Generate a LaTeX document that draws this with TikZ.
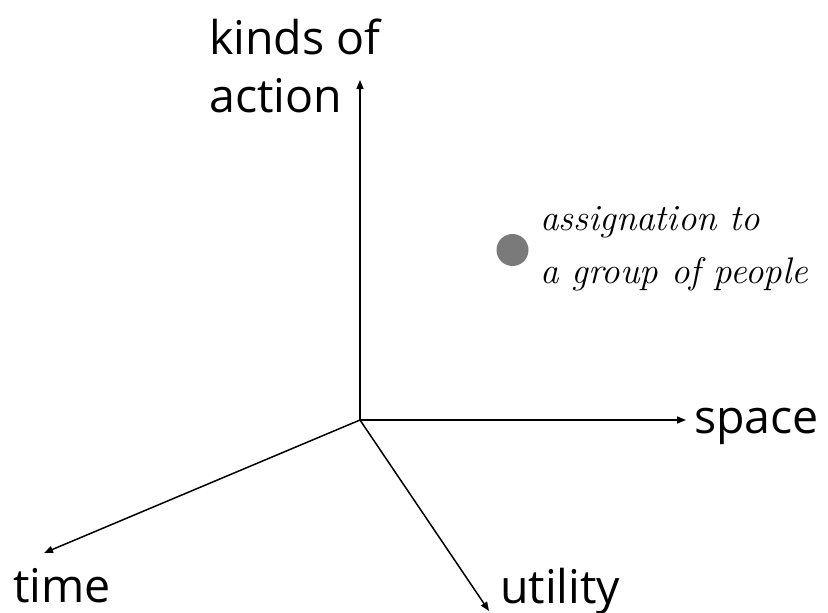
\documentclass[tikz,border=0pt]{standalone}
\usepackage{fontspec}
\newfontfamily\axisfont{Open Sans}
\usetikzlibrary{arrows.meta}
\tikzset{
  axis/.style={line width=1.5pt, -{Stealth[length=9pt,width=7pt,inset=0pt]}},
  axislabel/.style={font=\axisfont\fontsize{46.5}{58}\selectfont, inner sep=0pt, anchor=base west},
  note/.style={font=\itshape\fontsize{37}{53}\selectfont, inner sep=0pt, anchor=base west},
}
\begin{document}
\begin{tikzpicture}[x=1pt,y=-1pt]
  \useasboundingbox (0,0) rectangle (828,613);
  % axes from a common origin
  \coordinate (o) at (360,420);
  \coordinate (up) at (360,80);
  \coordinate (right) at (686,420);
  \coordinate (tm) at (44,553);
  \coordinate (ut) at (489,611);
  \draw[axis] (o) -- (up);
  \draw[axis] (o) -- (right);
  \draw[axis] (o) -- (tm);
  \draw[axis] (o) -- (ut);
  % axis labels
  \node[axislabel] (kinds) at (209,54) {kinds of};
  \node[axislabel] (action) at (209,112) {action};
  \node[axislabel] (space) at (694,433) {space};
  \node[axislabel] (time) at (13,602) {time};
  \node[axislabel] (utility) at (500,603) {utility};
  % sample point
  \fill[black!52] (512.5,250) circle (16) coordinate (pt);
  \node[note] (n1) at (540,230) {assignation to};
  \node[note] (n2) at (540,283) {a group of people};
\end{tikzpicture}
\end{document}
